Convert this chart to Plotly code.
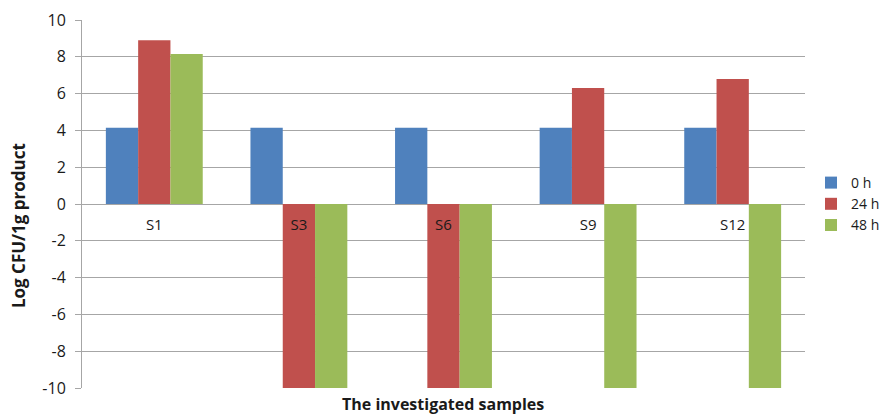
import plotly.graph_objects as go

samples = ["S1", "S3", "S6", "S9", "S12"]
series_names = ["0 h", "24 h", "48 h"]
values_0h = [4.15, 4.15, 4.15, 4.15, 4.15]
values_24h = [8.9, -10, -10, 6.3, 6.8]
values_48h = [8.15, -10, -10, -10, -10]
colors = ["#4F81BD", "#C0504D", "#9BBB59"]
y_ticks = list(range(-10, 11, 2))
y_tick_text = [str(v) for v in y_ticks]

font_family = "Open Sans, Liberation Sans, sans-serif"
grid_color = "#A6A6A6"
text_color = "#1a1a1a"

fig = go.Figure()
for name, vals, col in zip(series_names, [values_0h, values_24h, values_48h], colors):
    fig.add_trace(go.Bar(x=samples, y=vals, name=name,
                         marker=dict(color=col, line=dict(width=0))))

fig.update_layout(
    width=888, height=414,
    margin=dict(l=82, r=4, t=20, b=26),
    paper_bgcolor="white", plot_bgcolor="white",
    barmode="group", bargap=0.33, bargroupgap=0,
    font=dict(family=font_family, size=14, color=text_color),
    showlegend=True,
    legend=dict(x=0.909, y=0.5, xanchor="left", yanchor="middle",
                font=dict(size=14, color=text_color),
                itemwidth=30, tracegroupgap=0,
                bgcolor="rgba(0,0,0,0)"),
)

# Category axis drawn along the zero line; plot area ends before the legend
fig.update_xaxes(
    domain=[0, 0.9026],
    anchor="free", position=0.5,
    showline=False, showgrid=False, ticks="",
    tickfont=dict(size=15, color=text_color),
    ticklabelstandoff=10,
)
fig.update_yaxes(
    range=[-10, 10], tickvals=y_ticks, ticktext=y_tick_text,
    showgrid=True, gridcolor=grid_color, gridwidth=1,
    zeroline=False,
    showline=True, linecolor=grid_color, linewidth=1,
    ticks="outside", ticklen=6, tickcolor=grid_color,
    ticklabelstandoff=6,
    tickfont=dict(size=16, color=text_color),
)

fig.add_annotation(
    text="<b>Log CFU/1g product</b>", textangle=-90,
    xref="paper", yref="paper", x=0, y=0.44,
    xanchor="center", yanchor="middle", xshift=-64,
    showarrow=False, font=dict(size=17, color=text_color),
)
fig.add_annotation(
    text="<b>The investigated samples</b>",
    xref="x domain", yref="paper", x=0.5, y=0,
    xanchor="center", yanchor="middle", yshift=-16,
    showarrow=False, font=dict(size=16, color=text_color),
)

fig.write_html("out.html")
